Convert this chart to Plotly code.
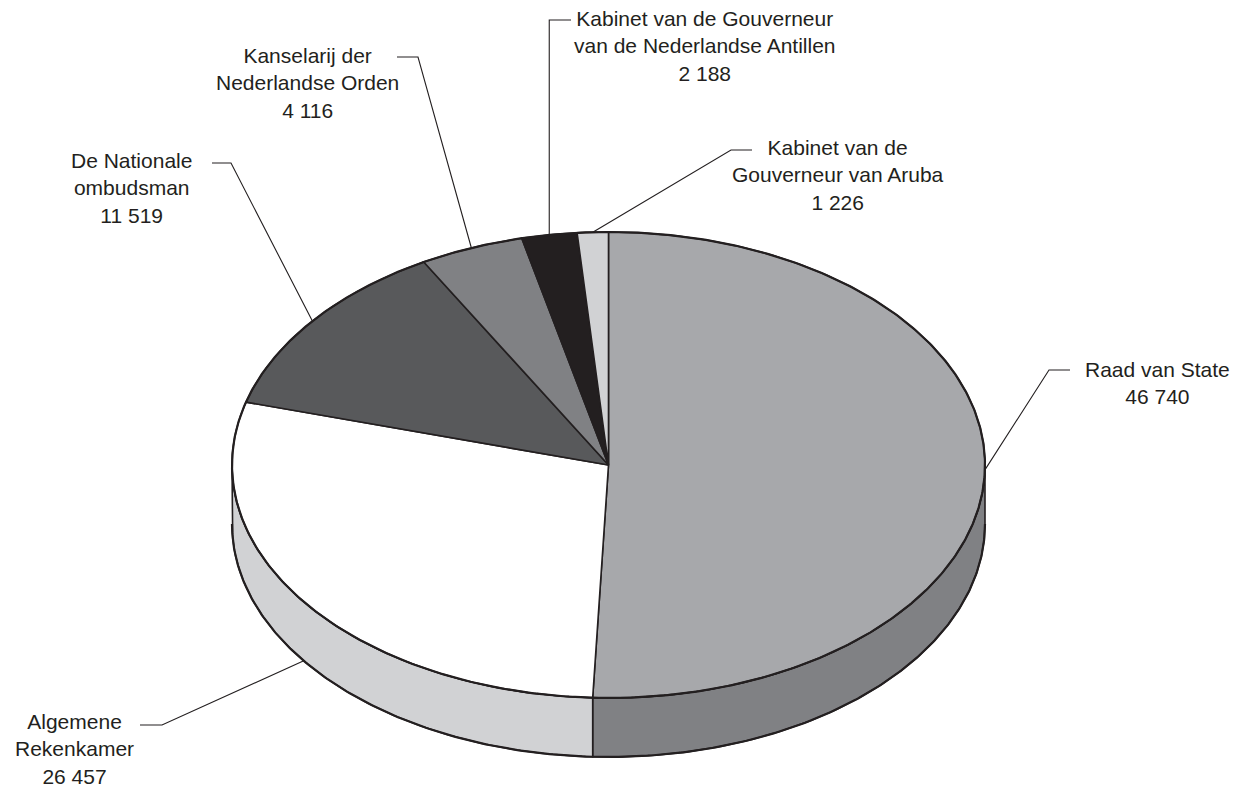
import numpy as np
import plotly.graph_objects as go

# ---------------- data ----------------
categories = [
    "Raad van State",
    "Algemene Rekenkamer",
    "De Nationale ombudsman",
    "Kanselarij der Nederlandse Orden",
    "Kabinet van de Gouverneur van de Nederlandse Antillen",
    "Kabinet van de Gouverneur van Aruba",
]
values = [46740, 26457, 11519, 4116, 2188, 1226]
label_names = [
    "Raad van State",
    "Algemene<br>Rekenkamer",
    "De Nationale<br>ombudsman",
    "Kanselarij der<br>Nederlandse Orden",
    "Kabinet van de Gouverneur<br>van de Nederlandse Antillen",
    "Kabinet van de<br>Gouverneur van Aruba",
]

# ---------------- styles / layout ----------------
top_colors = ["#a7a8ab", "#ffffff", "#58595b", "#808184", "#231f20", "#d1d2d4"]
side_colors = ["#808184", "#d1d2d4", "#3a3a3c", "#636466", "#111111", "#b0b1b3"]
outline = "#231f20"

W, H = 1245, 786
OFF = 8  # page body margin
CX, CY = 608.5, 465.0
RX, RY = 376.5, 233.0
DEPTH = 59.0

# label placement (text centre, elbow, end of horizontal tick), anchor on side bottom?
label_pos = [(1157, 383), (74, 749), (131, 188), (307, 83), (705, 46), (838, 175)]
elbows = [(1049, 370), (162, 725), (231, 163), (418, 57), (None, 20), (731, 150)]
tick_ends = [(1070, 370), (140, 725), (212, 163), (397, 57), (571, 20), (752, 150)]
anchor_on_side = [False, True, False, False, False, False]

FONT = dict(family="Liberation Sans, Arial, sans-serif", size=21, color=outline)


def pt(theta_deg, dy=0.0):
    t = np.radians(theta_deg)
    return CX + RX * np.sin(t), CY - RY * np.cos(t) + dy


def arc(a, b, dy=0.0, n=None):
    if n is None:
        n = max(4, int(abs(b - a) * 2) + 2)
    th = np.linspace(a, b, n)
    xs, ys = pt(th, dy)
    return list(xs), list(ys)


total = float(sum(values))
angles = np.concatenate([[0.0], np.cumsum(values) / total * 360.0])

fig = go.Figure()

# side walls (front half only: 90..270 degrees)
for i, v in enumerate(values):
    a, b = angles[i], angles[i + 1]
    lo, hi = max(a, 90.0), min(b, 270.0)
    if hi <= lo:
        continue
    xt, yt = arc(lo, hi)
    xb, yb = arc(hi, lo, DEPTH)
    xs = xt + xb + [xt[0]]
    ys = yt + yb + [yt[0]]
    fig.add_trace(go.Scatter(x=xs, y=ys, mode="lines", fill="toself",
                             fillcolor=side_colors[i],
                             line=dict(color=outline, width=1.6),
                             hoverinfo="skip", showlegend=False))

# top faces
for i, v in enumerate(values):
    a, b = angles[i], angles[i + 1]
    xa, ya = arc(a, b)
    xs = [CX] + xa + [CX]
    ys = [CY] + ya + [CY]
    fig.add_trace(go.Scatter(x=xs, y=ys, mode="lines", fill="toself",
                             fillcolor=top_colors[i],
                             line=dict(color=outline, width=1.6),
                             hoverinfo="skip", showlegend=False,
                             name=categories[i]))

# outer rim (slightly heavier)
xr, yr = arc(0, 360, n=721)
fig.add_trace(go.Scatter(x=xr, y=yr, mode="lines",
                         line=dict(color=outline, width=2.2),
                         hoverinfo="skip", showlegend=False))
xb1, yb1 = arc(90, 270, DEPTH, n=361)
fig.add_trace(go.Scatter(x=xb1, y=yb1, mode="lines",
                         line=dict(color=outline, width=2.2),
                         hoverinfo="skip", showlegend=False))

# leader lines and labels
for i, v in enumerate(values):
    mid = (angles[i] + angles[i + 1]) / 2.0
    ax, ay = pt(mid, DEPTH if anchor_on_side[i] else 0.0)
    ex, ey = elbows[i]
    if ex is None:
        ex = float(ax)
    tx, ty = tick_ends[i]
    fig.add_trace(go.Scatter(x=[float(ax), ex, tx], y=[float(ay), ey, ty],
                             mode="lines", line=dict(color=outline, width=1.1),
                             hoverinfo="skip", showlegend=False))
    txt = label_names[i] + "<br>" + f"{v:,}".replace(",", " ")
    lx, ly = label_pos[i]
    fig.add_annotation(x=lx, y=ly, xref="x", yref="y", text=txt,
                       showarrow=False, xanchor="center", yanchor="middle",
                       align="center", font=FONT)

fig.update_layout(
    width=W, height=H, autosize=False,
    margin=dict(l=0, r=0, t=0, b=0),
    paper_bgcolor="white", plot_bgcolor="white",
    xaxis=dict(range=[OFF, W + OFF], visible=False, fixedrange=True),
    yaxis=dict(range=[H + OFF, OFF], visible=False, fixedrange=True),
    showlegend=False,
)

fig.write_html("out.html")
